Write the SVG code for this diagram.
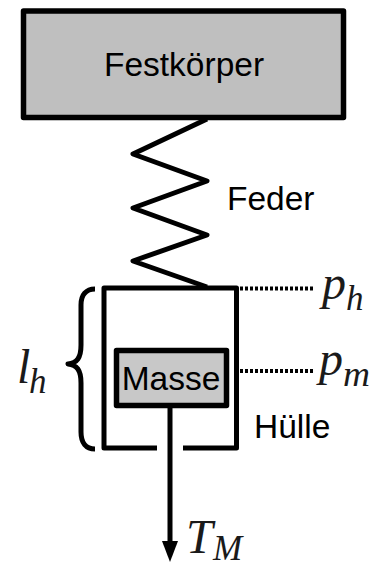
<svg xmlns="http://www.w3.org/2000/svg" width="371" height="562" viewBox="0 0 371 562">
<style>
.box{fill:#bfbfbf;stroke:#000;stroke-width:5.500;stroke-linejoin:round}
.ln{fill:none;stroke:#000;stroke-width:5;stroke-linejoin:round}
.dot{fill:none;stroke:#000;stroke-width:4;stroke-dasharray:3 2}
.t{font-family:"Liberation Sans",Arial,sans-serif;fill:#000;font-size:33.500px}
.m{font-family:"Liberation Serif","Times New Roman",serif;font-style:italic;fill:#1a1a1a;font-size:48px}
.s{font-size:35px}
</style>
<g id="festkoerper">
<rect class="box" x="23.500" y="11" width="320" height="106.500"/>
<text class="t" x="184" y="76" text-anchor="middle">Festkörper</text>
</g>
<g id="huelle">
<path class="ln" d="M157 448H104V288H236.500V448H183"/>
<text class="t" x="254" y="438">Hülle</text>
</g>
<g id="masse">
<rect class="box" style="fill:#c8c8c8" x="116.500" y="350.500" width="110" height="55"/>
<text class="t" x="171" y="390" text-anchor="middle">Masse</text>
</g>
<g id="connectors">
<path class="ln" d="M207 119L133 154L207 181L133 208L207 235L133 261L207 287"/>
<path class="ln" d="M170 406V545"/>
<polygon points="162,541 178,541 170,562" fill="#000"/>
<path class="dot" d="M240 288.500H315"/>
<path class="dot" d="M240 371H315"/>
<path class="ln" d="M95 289C86 289 81 295 81 305V345C81 358 77 363 68 364C77 365 81 370 81 383V432C81 443 86 449 95 449"/>
</g>
<g id="label-feder"><text class="t" x="227" y="210">Feder</text></g>
<g id="label-ph"><text class="m" x="322" y="299">p</text><text class="m s" x="346" y="310">h</text></g>
<g id="label-pm"><text class="m" x="319" y="375">p</text><text class="m s" x="343" y="386" textLength="27" lengthAdjust="spacingAndGlyphs">m</text></g>
<g id="label-lh"><text class="m" x="17" y="383">l</text><text class="m s" x="29" y="393">h</text></g>
<g id="label-tm"><text class="m" x="186" y="553">T</text><text class="m s" x="213" y="560">M</text></g>
</svg>
